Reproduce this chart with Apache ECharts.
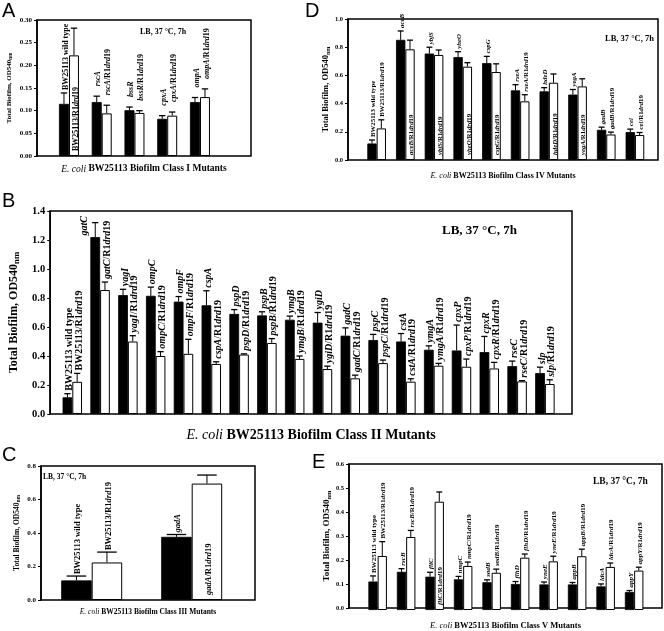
<!DOCTYPE html>
<html><head><meta charset="utf-8">
<script src="https://cdn.jsdelivr.net/npm/echarts@6/dist/echarts.min.js"></script>
<style>html,body{margin:0;padding:0;background:#fff}#c{width:664px;height:631px}</style>
</head><body><div id="c"></div>
<script>
// ---------------- DATA ----------------
// Panel A - Class I
const aGenes = ['BW25113 wild type','rscA','bssR','cpxA','ompA'];
const aMut = [0.115,0.119,0.101,0.082,0.119];
const aMutErr = [0.139,0.132,0.108,0.089,0.129];
const aPl = [0.222,0.094,0.095,0.089,0.130];
const aPlErr = [0.282,0.112,0.100,0.097,0.148];
// Panel B - Class II
const bGenes = ['BW25113 wild type','gatC','yagI','ompC','ompF','cspA','pspD','pspB','ymgB','ygiD','gadC','pspC','cstA','ymgA','cpxP','cpxR','rseC','slp'];
const bMut = [0.115,1.22,0.82,0.815,0.775,0.75,0.69,0.68,0.65,0.63,0.54,0.51,0.50,0.443,0.438,0.427,0.33,0.282];
const bMutErr = [0.14,1.32,0.86,0.875,0.81,0.85,0.72,0.705,0.675,0.70,0.594,0.549,0.555,0.47,0.613,0.535,0.365,0.323];
const bPl = [0.222,0.855,0.50,0.40,0.415,0.345,0.41,0.49,0.38,0.31,0.246,0.351,0.223,0.333,0.326,0.314,0.225,0.207];
const bPlErr = [0.28,0.91,0.54,0.43,0.515,0.36,0.415,0.52,0.40,0.33,0.268,0.372,0.243,0.349,0.379,0.356,0.23,0.236];
// Panel C - Class III
const cGenes = ['BW25113 wild type','gadA'];
const cMut = [0.117,0.377];
const cMutErr = [0.143,0.391];
const cPl = [0.224,0.695];
const cPlErr = [0.286,0.746];
// Panel D - Class IV
const dGenes = ['BW25113 wild type','aceB','ybjS','yheO','cspG','rseA','hdeD','yegA','gadB','cel'];
const dMut = [0.117,0.852,0.755,0.73,0.687,0.494,0.487,0.464,0.214,0.198];
const dMutErr = [0.142,0.915,0.80,0.768,0.735,0.534,0.513,0.50,0.233,0.219];
const dPl = [0.224,0.785,0.745,0.662,0.624,0.416,0.548,0.522,0.181,0.177];
const dPlErr = [0.285,0.85,0.78,0.69,0.682,0.463,0.61,0.576,0.198,0.195];
// Panel E - Class V
const eGenes = ['BW25113 wild type','rscB','fliC','nmpC','sodB','flhD','yneE','appB','ldcA','appY'];
const eMut = [0.117,0.157,0.137,0.126,0.114,0.107,0.105,0.105,0.097,0.074];
const eMutErr = [0.14,0.17,0.155,0.138,0.124,0.117,0.115,0.113,0.107,0.080];
const ePl = [0.222,0.30,0.445,0.181,0.153,0.215,0.20,0.221,0.177,0.162];
const ePlErr = [0.281,0.327,0.485,0.197,0.168,0.23,0.221,0.25,0.193,0.176];

const condText = 'LB, 37 °C, 7h';
const yTitle = 'Total Biofilm, OD540';
const ySub = 'nm';

// ---------------- LAYOUT ----------------
const SERIF = '"Liberation Serif","Times New Roman",serif';
const SANS = '"Liberation Sans",Arial,sans-serif';
const panels = [
  {letter:'A', letterPos:[2,1], genes:aGenes, mut:aMut, mutErr:aMutErr, pl:aPl, plErr:aPlErr, cls:'I',
   max:0.30, interval:0.05, dec:2, frame:{left:37,top:20,width:214,height:136}, data:{left:52.6,width:163.75}, gap:0.39,
   labelFs:8, labelGap:10, fitPad:0, tickFs:7, yFs:7, yGap:24, xFs:9.5, xGap:8, cond:[140,28,8]},
  {letter:'B', letterPos:[2,191], genes:bGenes, mut:bMut, mutErr:bMutErr, pl:bPl, plErr:bPlErr, cls:'II',
   max:1.4, interval:0.2, dec:1, frame:{left:41,top:211,width:531,height:203}, data:{left:58.4,width:500.4}, gap:0.30,
   labelFs:10, labelGap:3, fitPad:0, tickFs:10.5, yFs:12, yGap:22, xFs:14, xGap:14, cond:[442,224,13]},
  {letter:'C', letterPos:[2,445], genes:cGenes, mut:cMut, mutErr:cMutErr, pl:cPl, plErr:cPlErr, cls:'III',
   max:0.8, interval:0.2, dec:1, frame:{left:41,top:466,width:214,height:134}, data:{left:41.7,width:200}, gap:0.39,
   labelFs:8.5, labelGap:2, fitPad:0, tickFs:7, yFs:7.5, yGap:20, xFs:7.5, xGap:8, cond:[43,473,7.5]},
  {letter:'D', letterPos:[305,1], genes:dGenes, mut:dMut, mutErr:dMutErr, pl:dPl, plErr:dPlErr, cls:'IV',
   max:1.0, interval:0.2, dec:1, frame:{left:348,top:19,width:310,height:141}, data:{left:362.3,width:287}, gap:0.35,
   labelFs:6.8, labelGap:3, fitPad:28, tickFs:6.5, yFs:8.5, yGap:16, xFs:8, xGap:12, cond:[605,34,8.5]},
  {letter:'E', letterPos:[312,452], genes:eGenes, mut:eMut, mutErr:eMutErr, pl:ePl, plErr:ePlErr, cls:'V',
   max:0.6, interval:0.1, dec:1, frame:{left:349,top:464,width:313,height:146}, data:{left:363.4,width:285}, gap:0.35,
   labelFs:7, labelGap:3, fitPad:0, tickFs:6.5, yFs:9, yGap:16, xFs:8.5, xGap:13, cond:[593,477,9.5]}
];

const mctx = document.createElement('canvas').getContext('2d');
function textLen(s, fs){ mctx.font = 'bold ' + fs + 'px "Liberation Serif"'; return mctx.measureText(s).width; }
function labelRich(name, isPl, isWild){
  if (isWild) return isPl ? '{b|BW25113/R1}{i|drd}{b|19}' : '{b|BW25113 wild type}';
  return '{i|' + name + '}' + (isPl ? '{b|/R1}{i|drd}{b|19}' : '');
}
function labelPlain(name, isPl, isWild){
  if (isWild) return isPl ? 'BW25113/R1drd19' : 'BW25113 wild type';
  return name + (isPl ? '/R1drd19' : '');
}

const grids = [], xAxes = [], yAxes = [], series = [], graphics = [];
panels.forEach(function(p, k){
  const fi = 2*k, di = 2*k+1;
  const f = p.frame;
  grids.push({left:f.left, top:f.top, width:f.width, height:f.height, show:true, borderColor:'#000', borderWidth:1.5, backgroundColor:'transparent'});
  grids.push({left:p.data.left, top:f.top, width:p.data.width, height:f.height});
  xAxes.push({gridIndex:fi, type:'value', min:0, max:1, axisLine:{show:false}, axisTick:{show:false}, axisLabel:{show:false}, splitLine:{show:false},
    name:'{i|E. coli} {b|BW25113 Biofilm Class ' + p.cls + ' Mutants}', nameLocation:'middle', nameGap:p.xGap,
    nameTextStyle:{color:'#000', fontSize:p.xFs, fontFamily:SERIF,
      rich:{i:{fontStyle:'italic', fontSize:p.xFs, fontFamily:SERIF, color:'#000'}, b:{fontWeight:'bold', fontSize:p.xFs, fontFamily:SERIF, color:'#000'}}}});
  xAxes.push({gridIndex:di, type:'category', data:p.genes, show:false});
  yAxes.push({gridIndex:fi, type:'value', min:0, max:p.max, interval:p.interval,
    axisLine:{show:true, lineStyle:{color:'#000', width:1.5}}, axisTick:{show:true, length:3, lineStyle:{color:'#000', width:1}},
    axisLabel:{formatter:function(v){return v.toFixed(p.dec);}, fontFamily:SERIF, fontWeight:'bold', fontSize:p.tickFs, color:'#000', margin:5},
    splitLine:{show:false},
    name:'{b|' + yTitle + '}{s|' + ySub + '}', nameLocation:'middle', nameGap:p.yGap,
    nameTextStyle:{color:'#000', fontSize:p.yFs, fontFamily:SERIF,
      rich:{b:{fontWeight:'bold', fontSize:p.yFs, fontFamily:SERIF, color:'#000'},
            s:{fontWeight:'bold', fontSize:p.yFs*0.72, fontFamily:SERIF, color:'#000', verticalAlign:'bottom', padding:[p.yFs*0.45,0,0,0]}}}});
  yAxes.push({gridIndex:di, type:'value', min:0, max:p.max, show:false});

  series.push({type:'bar', xAxisIndex:di, yAxisIndex:di, data:p.mut, barGap:'0%', barCategoryGap:(p.gap*100)+'%',
    itemStyle:{color:'#000', borderColor:'#000', borderWidth:0.8}, silent:true});
  series.push({type:'bar', xAxisIndex:di, yAxisIndex:di, data:p.pl, barGap:'0%', barCategoryGap:(p.gap*100)+'%',
    itemStyle:{color:'#fff', borderColor:'#000', borderWidth:1}, silent:true});

  [false, true].forEach(function(isPl){
    const vals = isPl ? p.pl : p.mut, errs = isPl ? p.plErr : p.mutErr;
    series.push({type:'custom', xAxisIndex:di, yAxisIndex:di, clip:false, silent:true, z:5,
      data: vals.map(function(v,i){ return [i, v, errs[i]]; }),
      renderItem: function(params, api){
        const i = api.value(0);
        const bw = api.size([1,0])[0];
        const barW = bw*(1-p.gap)/2;
        const base = api.coord([i, 0]);
        const cx = base[0] + (isPl ? barW/2 : -barW/2);
        const yb = base[1];
        const yv = api.coord([i, api.value(1)])[1];
        const ye = api.coord([i, api.value(2)])[1];
        const cap = Math.max(2.5, barW*0.32);
        const top = params.coordSys.y;
        const isWild = i === 0;
        const plain = labelPlain(p.genes[i], isPl, isWild);
        const len = textLen(plain, p.labelFs);
        let tx = cx + p.labelFs*0.2, ty = ye - p.labelGap;
        if (isPl) {
          if (ty - len - p.fitPad < top + 2) {
            ty = ye - 3;
            if (ty - len - p.fitPad < top + 2) ty = yb - 5;
          }
        } else {
          if (ty - len < top + 2) {
            ty = ye - 3;
            if (ty - len < top - 10) { tx = cx - barW*0.5 - p.labelFs*0.55; ty = top + 4 + len; }
          }
        }
        return {type:'group', children:[
          {type:'line', shape:{x1:cx, y1:yv, x2:cx, y2:ye}, style:{stroke:'#000', lineWidth:1}},
          {type:'line', shape:{x1:cx-cap, y1:ye, x2:cx+cap, y2:ye}, style:{stroke:'#000', lineWidth:1.3}},
          {type:'text', x:tx, y:ty, rotation:Math.PI/2,
            style:{text:labelRich(p.genes[i], isPl, isWild), align:'left', verticalAlign:'middle',
              fontFamily:SERIF, fontSize:p.labelFs, fill:'#000',
              rich:{i:{fontStyle:'italic', fontWeight:'bold', fontSize:p.labelFs, fontFamily:SERIF, fill:'#000'},
                    b:{fontWeight:'bold', fontSize:p.labelFs, fontFamily:SERIF, fill:'#000'}}}}
        ]};
      }});
  });

  graphics.push({type:'text', left:p.letterPos[0], top:p.letterPos[1],
    style:{text:p.letter, fontFamily:SANS, fontSize:20, fill:'#000'}});
  graphics.push({type:'text', left:p.cond[0], top:p.cond[1],
    style:{text:condText, fontFamily:SERIF, fontWeight:'bold', fontSize:p.cond[2], fill:'#000'}});
});

const chart = echarts.init(document.getElementById('c'), null, {renderer:'canvas'});
chart.setOption({
  animation:false, backgroundColor:'#fff',
  grid:grids, xAxis:xAxes, yAxis:yAxes, series:series, graphic:graphics
});
</script>
</body></html>
